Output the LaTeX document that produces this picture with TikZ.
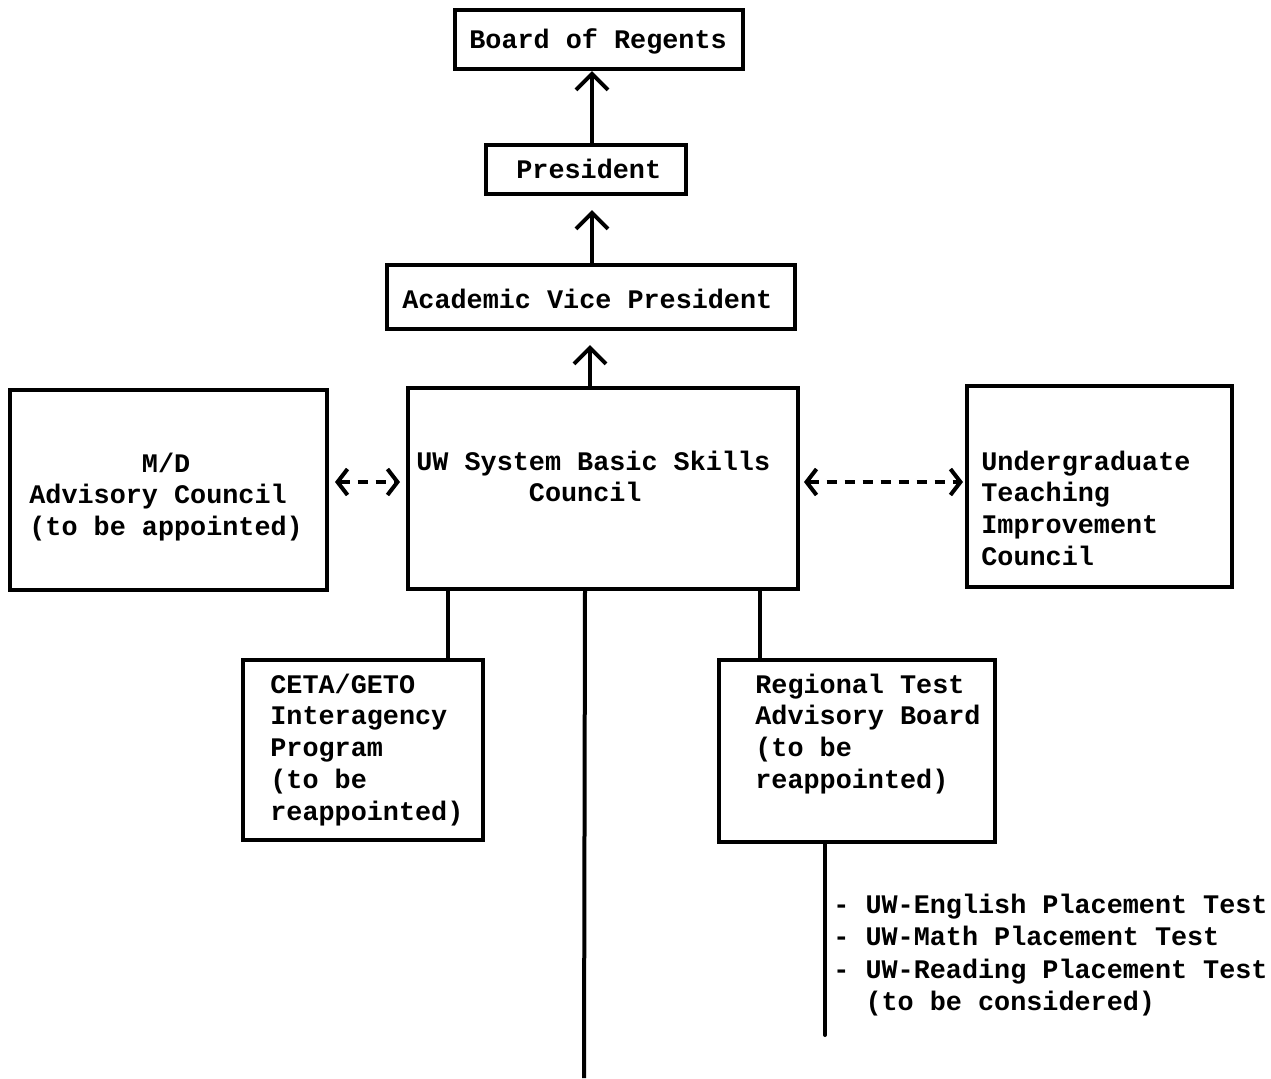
\documentclass[tikz,border=0pt]{standalone}
\usepackage{fontspec}
\setmonofont{Liberation Mono}
\usetikzlibrary{arrows.meta,fit}
\newcommand\tlines[1]{\begin{tabular}[t]{@{}l@{}}#1\end{tabular}}
\begin{document}
\begin{tikzpicture}[x=0.5pt,y=-0.5pt,
  box/.style={draw,line width=2pt,inner sep=0pt,rectangle},
  txt/.style={inner sep=0pt,anchor=base west,font=\fontsize{13.4}{15.9}\selectfont\ttfamily\bfseries},
  listtxt/.style={txt,font=\fontsize{13.4}{16.3}\selectfont\ttfamily\bfseries},
  conn/.style={line width=2pt},
  arr/.style={line width=2pt,-{Straight Barb[length=8pt,width=16pt,line width=2pt]}},
  darr/.style={line width=2.4pt,dash pattern=on 5pt off 4pt,
     {Straight Barb[length=5pt,width=13pt,line width=2pt]}-{Straight Barb[length=5pt,width=13pt,line width=2pt]}}
]
\fill[white] (0,0) rectangle (1271,1078);
\useasboundingbox (0,0) rectangle (1271,1078);

% boxes
\node[box,fit={(455,10) (743,69)}] (regents) {};
\node[box,fit={(486,145) (686,194)}] (pres) {};
\node[box,fit={(387,265) (795,329)}] (avp) {};
\node[box,fit={(408,388) (798,589)}] (uw) {};
\node[box,fit={(10,390) (327,590)}] (md) {};
\node[box,fit={(967,386) (1232,587)}] (ug) {};
\node[box,fit={(243,660) (483,840)}] (ceta) {};
\node[box,fit={(719,660) (995,842)}] (reg) {};

% texts
\node[txt] (regentsT) at (469,48) {Board of Regents};
\node[txt] (presT) at (516,178) {President};
\node[txt] (avpT) at (402,308) {Academic Vice President};
\node[txt] (uwT) at (416,470) {\tlines{UW System Basic Skills\\\phantom{1234567}Council}};
\node[txt] (mdT) at (29,472) {\tlines{\phantom{1234567}M/D\\Advisory Council\\(to be appointed)}};
\node[txt] (ugT) at (981,470) {\tlines{Undergraduate\\Teaching\\Improvement\\Council}};
\node[txt] (cetaT) at (270,693) {\tlines{CETA/GETO\\Interagency\\Program\\(to be\\reappointed)}};
\node[txt] (regT) at (755,693) {\tlines{Regional Test\\Advisory Board\\(to be\\reappointed)}};
\node[listtxt] (listT) at (833,913) {\tlines{- UW-English Placement Test\\- UW-Math Placement Test\\- UW-Reading Placement Test\\\phantom{- }(to be considered)}};

% helper x positions
\coordinate (x592) at (592,0);
\coordinate (x590) at (590,0);
\coordinate (x448) at (448,0);
\coordinate (x760) at (760,0);
\coordinate (x585) at (585,0);
\coordinate (x825) at (825,0);
\coordinate (bottom) at (584,1078);
\coordinate (listend) at (825,1035);

% arrows up
\draw[arr] (pres.north -| x592) -- (regents.south -| x592);
\draw[arr,shorten >=7pt] (avp.north -| x592) -- (pres.south -| x592);
\draw[arr,shorten >=7pt] (uw.north -| x590) -- (avp.south -| x590);

% dashed two-way arrows
\draw[darr,shorten <=3pt,shorten >=3pt] ([yshift=4pt]md.east) -- ([yshift=4pt]md.east -| uw.west);
\draw[darr,shorten <=2pt,shorten >=1pt] ([yshift=3.25pt]uw.east) -- ([yshift=3.25pt]uw.east -| ug.west);

% connectors
\draw[conn] (uw.south -| x448) -- (ceta.north -| x448);
\draw[conn] (uw.south -| x760) -- (reg.north -| x760);
\draw[conn] (uw.south -| x585) -- (bottom);
\draw[conn,line cap=round] (reg.south -| x825) -- (listend);
\end{tikzpicture}
\end{document}
